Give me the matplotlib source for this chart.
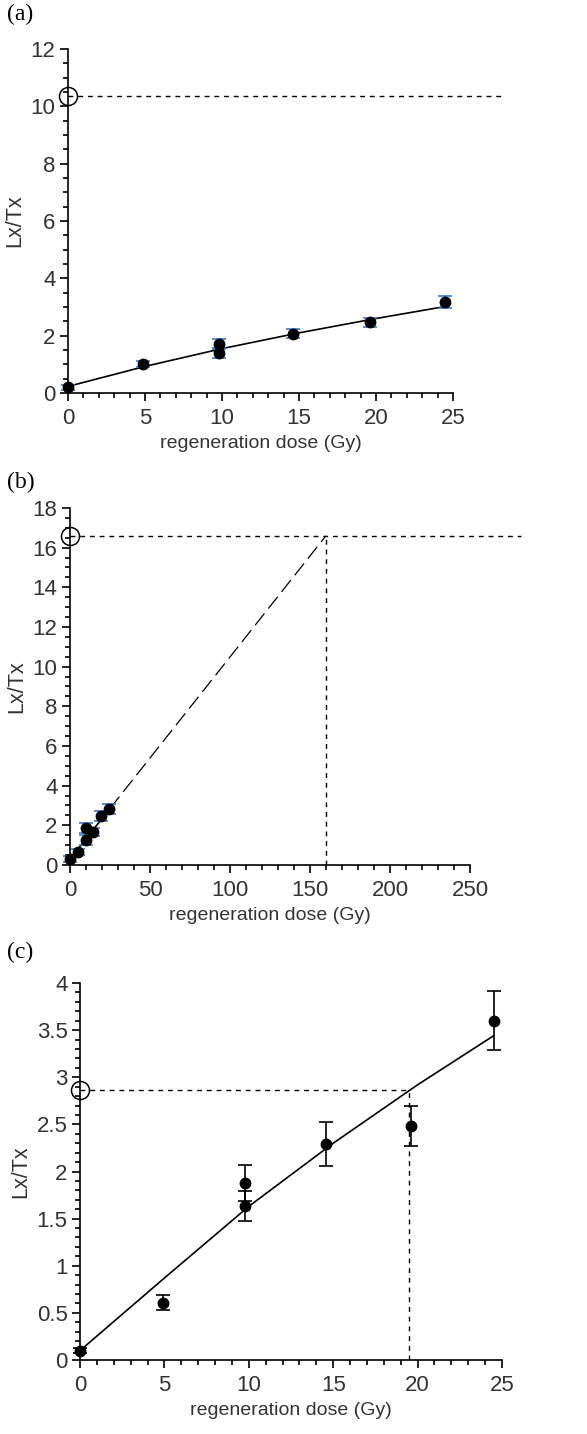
import matplotlib
matplotlib.use("Agg")
import matplotlib.pyplot as plt
from matplotlib.ticker import MultipleLocator, FormatStrFormatter

plt.rcParams['font.family'] = ['Liberation Sans', 'DejaVu Sans']

# measured doses and Lx/Tx values
dose = [0, 4.9, 9.8, 9.8, 14.6, 19.6, 24.5]

a_val = [0.2, 1.02, 1.72, 1.38, 2.07, 2.47, 3.18]
a_err = [0.08, 0.1, 0.15, 0.15, 0.15, 0.15, 0.2]
a_fit_x = [0, 5, 10, 15, 20, 24.5]
a_fit_y = [0.23, 0.93, 1.55, 2.1, 2.6, 3.02]
a_nat = 10.35

b_val = [0.3, 0.65, 1.85, 1.28, 1.65, 2.45, 2.8]
b_err = [0.15, 0.15, 0.25, 0.25, 0.2, 0.25, 0.25]
b_fit_x = [0, 25]
b_fit_y = [0.3, 2.85]
b_ext_x = [25, 160]
b_ext_y = [2.85, 16.6]
b_nat = 16.6
b_de = 160

c_val = [0.1, 0.61, 1.88, 1.63, 2.29, 2.48, 3.60]
c_err = [0.03, 0.08, 0.19, 0.16, 0.23, 0.21, 0.31]
c_fit_x = [0, 5, 10, 15, 20, 24.5]
c_fit_y = [0.1, 0.87, 1.63, 2.30, 2.92, 3.44]
c_nat = 2.86
c_de = 19.5

fig = plt.figure(figsize=(5.87, 14.34), dpi=100)

TICK_FS = 16
XLAB_FS = 14
YLAB_FS = 15.5


def style(ax, xmax, ymax, xmaj, xmin, ymaj, ymin):
    ax.set_xlim(0, xmax)
    ax.set_ylim(0, ymax)
    for s in ['top', 'right']:
        ax.spines[s].set_visible(False)
    for s in ['left', 'bottom']:
        ax.spines[s].set_linewidth(1.2)
    ax.xaxis.set_major_locator(MultipleLocator(xmaj))
    ax.xaxis.set_minor_locator(MultipleLocator(xmin))
    ax.yaxis.set_major_locator(MultipleLocator(ymaj))
    ax.yaxis.set_minor_locator(MultipleLocator(ymin))
    ax.yaxis.set_major_formatter(FormatStrFormatter('%g'))
    ax.tick_params(which='major', direction='out', length=6, width=1.2,
                   labelsize=TICK_FS, labelcolor='#333333', pad=3)
    ax.tick_params(axis='x', which='major', pad=5)
    ax.tick_params(which='minor', direction='out', length=3.5, width=1.2)
    ax.set_xlabel('regeneration dose (Gy)', fontsize=XLAB_FS, color='#333333', labelpad=4)
    ax.set_ylabel('Lx/Tx', fontsize=YLAB_FS, color='#333333', labelpad=4)


# (a)
ax1 = fig.add_axes([0.1158, 0.7259, 0.656, 0.2399])
style(ax1, 25, 12, 5, 1, 2, 0.5)
ax1.plot(a_fit_x, a_fit_y, color='black', lw=1.2, zorder=3)
ax1.errorbar(dose, a_val, yerr=a_err, fmt='o', color='black', ms=7.5,
             ecolor='#3a78c8', elinewidth=1.2, capsize=5, capthick=1.2,
             clip_on=False, zorder=4)
ax1.plot([0, 28.2], [a_nat, a_nat], ls=(0, (3.5, 3.5)), color='black', lw=1, clip_on=False)
ax1.plot([0], [a_nat], 'o', mfc='none', mec='black', ms=13, mew=1.1, clip_on=False)

# (b)
ax2 = fig.add_axes([0.1193, 0.3968, 0.6814, 0.2490])
style(ax2, 250, 18, 50, 10, 2, 0.5)
ax2.plot(b_fit_x, b_fit_y, color='black', lw=1.2, zorder=3)
ax2.plot(b_ext_x, b_ext_y, color='black', lw=0.9, ls=(0, (12, 5)), zorder=3)
ax2.errorbar(dose, b_val, yerr=b_err, fmt='o', color='black', ms=7.5,
             ecolor='#3a78c8', elinewidth=1.2, capsize=5, capthick=1.2,
             clip_on=False, zorder=4)
ax2.plot([0, 282], [b_nat, b_nat], ls=(0, (3.5, 3.5)), color='black', lw=1, clip_on=False)
ax2.plot([b_de, b_de], [0, b_nat], ls=(0, (3.5, 3.5)), color='black', lw=1)
ax2.plot([0], [b_nat], 'o', mfc='none', mec='black', ms=13, mew=1.1, clip_on=False)

# (c)
ax3 = fig.add_axes([0.1363, 0.0516, 0.7189, 0.2629])
style(ax3, 25, 4, 5, 1, 0.5, 0.1)
ax3.plot(c_fit_x, c_fit_y, color='black', lw=1.2, zorder=3)
ax3.errorbar(dose, c_val, yerr=c_err, fmt='o', color='black', ms=7.5,
             ecolor='black', elinewidth=1.2, capsize=5, capthick=1.2,
             clip_on=False, zorder=4)
ax3.plot([0, c_de], [c_nat, c_nat], ls=(0, (3.5, 3.5)), color='black', lw=1)
ax3.plot([c_de, c_de], [0, c_nat], ls=(0, (3.5, 3.5)), color='black', lw=1)
ax3.plot([0], [c_nat], 'o', mfc='none', mec='black', ms=13, mew=1.1, clip_on=False)

# panel letters
for lab, y in [('(a)', 0.997), ('(b)', 0.671), ('(c)', 0.343)]:
    fig.text(0.012, y, lab, family=['Liberation Serif', 'DejaVu Serif'],
             fontsize=17, va='top', ha='left')

fig.savefig('out.png', dpi=100)
